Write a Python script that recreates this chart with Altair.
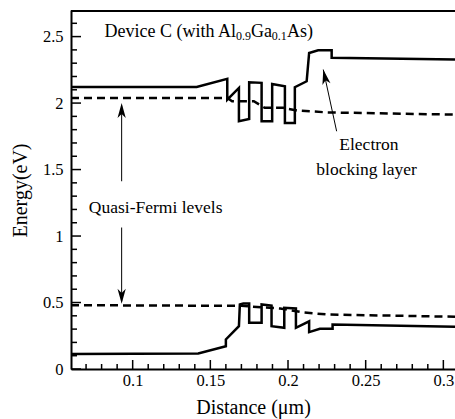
import altair as alt
import pandas as pd

# ---------------- data ----------------
cb_x = [0.0603, 0.1412, 0.1609, 0.1609, 0.1684, 0.1684, 0.1750, 0.1750, 0.1830, 0.1830, 0.1898,
        0.1898, 0.1980, 0.1980, 0.2044, 0.2044, 0.2120, 0.2136, 0.2194, 0.2281, 0.2281, 0.3075]
cb_y = [2.121, 2.121, 2.182, 2.026, 2.114, 1.863, 1.881, 2.156, 2.152, 1.863, 1.863,
        2.144, 2.126, 1.851, 1.851, 2.119, 2.164, 2.377, 2.397, 2.397, 2.340, 2.327]

vb_x = [0.0603, 0.1422, 0.1600, 0.1600, 0.1684, 0.1690, 0.1712, 0.1750, 0.1750, 0.1830, 0.1830, 0.1894,
        0.1894, 0.1976, 0.1976, 0.2051, 0.2051, 0.2136, 0.2136, 0.2205, 0.2287, 0.2287, 0.3075]
vb_y = [0.112, 0.117, 0.171, 0.222, 0.322, 0.485, 0.492, 0.492, 0.347, 0.347, 0.485, 0.477,
        0.322, 0.310, 0.460, 0.455, 0.310, 0.359, 0.277, 0.302, 0.302, 0.335, 0.317]

efn_x = [0.0603, 0.1610, 0.1640, 0.1780, 0.1850, 0.1970, 0.2060, 0.2250, 0.3075]
efn_y = [2.039, 2.039, 2.014, 2.014, 1.964, 1.964, 1.944, 1.930, 1.913]

efp_x = [0.0603, 0.1700, 0.1950, 0.2100, 0.2250, 0.3075]
efp_y = [0.480, 0.475, 0.455, 0.425, 0.410, 0.393]

x_major = [0.1, 0.15, 0.2, 0.25, 0.3]
x_minor = [0.07, 0.08, 0.09, 0.11, 0.12, 0.13, 0.14, 0.16, 0.17, 0.18, 0.19,
           0.21, 0.22, 0.23, 0.24, 0.26, 0.27, 0.28, 0.29]
y_major = [0, 0.5, 1, 1.5, 2, 2.5]
y_minor = [0.1, 0.2, 0.3, 0.4, 0.6, 0.7, 0.8, 0.9, 1.1, 1.2, 1.3, 1.4, 1.6, 1.7, 1.8, 1.9,
           2.1, 2.2, 2.3, 2.4, 2.6]

# annotations (data units)
arrow_id = ["up", "up", "down", "down", "ebl", "ebl"]
arrow_x = [0.0929, 0.0929, 0.0929, 0.0929, 0.2313, 0.2227]
arrow_y = [1.412, 1.98, 1.064, 0.51, 1.788, 2.252]
head_x = [0.0929, 0.0929, 0.2227]
head_y = [2.0, 0.490, 2.252]
head_angle = [0, 180, 347.7]

note_text = ["Quasi-Fermi levels", "Electron", "blocking layer"]
note_x = [0.1148, 0.2521, 0.2506]
note_y = [1.177, 1.645, 1.462]

# title with subscripts, in pieces
title_parts = ["Device C (with Al", "0.9", "Ga", "0.1", "As)"]
title_x = [0.1665, 0.1665, 0.1761, 0.1896, 0.1993]
title_y = [2.50, 2.478, 2.50, 2.478, 2.50]
title_size = [18, 12, 18, 12, 18]
title_align = ["right", "left", "left", "left", "left"]

FONT = "Liberation Serif"
W, H = 384, 359

xs = alt.Scale(domain=[0.0603, 0.3075], nice=False, zero=False)
ys = alt.Scale(domain=[0, 2.7], nice=False, zero=False)

xaxis = alt.Axis(values=x_major, format="~g", ticks=False, grid=False, labelFont=FONT,
                 labelFontSize=16.5, labelColor="black", labelPadding=3,
                 title="Distance (\u03bcm)", titleFont=FONT, titleFontSize=20,
                 titleFontWeight="normal", titleColor="black", titleX=182, titleY=44.5,
                 titleAlign="center", titleBaseline="alphabetic",
                 domainColor="black", domainWidth=2)
yaxis = alt.Axis(values=y_major, format="~g", ticks=False, grid=False, labelFont=FONT,
                 labelFontSize=16.5, labelColor="black", labelPadding=8,
                 title="Energy(eV)", titleFont=FONT, titleFontSize=20,
                 titleFontWeight="normal", titleColor="black", titleX=-51, titleY=180,
                 titleAngle=270, titleAlign="center", titleBaseline="middle",
                 domainColor="black", domainWidth=2)


def X(f):
    return alt.X(f, scale=xs, axis=xaxis)


def Y(f):
    return alt.Y(f, scale=ys, axis=yaxis)


def line_df(xv, yv):
    return pd.DataFrame({"x": xv, "y": yv, "i": list(range(len(xv)))})


def plain_line(xv, yv, **kw):
    return alt.Chart(line_df(xv, yv)).mark_line(color="black", **kw).encode(
        x=X("x:Q"), y=Y("y:Q"), order="i:Q")


cb = plain_line(cb_x, cb_y, strokeWidth=2.5)
vb = plain_line(vb_x, vb_y, strokeWidth=2.5)
efn = plain_line(efn_x, efn_y, strokeWidth=2.5, strokeDash=[8, 5])
efp = plain_line(efp_x, efp_y, strokeWidth=2.5, strokeDash=[8, 5])

ymaj = alt.Chart(pd.DataFrame({"y": y_major})).mark_rule(color="black", strokeWidth=1.5).encode(
    y=Y("y:Q"), x=alt.value(0), x2=alt.value(10))
ymin = alt.Chart(pd.DataFrame({"y": y_minor})).mark_rule(color="black", strokeWidth=1.5).encode(
    y=Y("y:Q"), x=alt.value(0), x2=alt.value(6))
xmaj = alt.Chart(pd.DataFrame({"x": x_major})).mark_rule(color="black", strokeWidth=1.5).encode(
    x=X("x:Q"), y=alt.value(H), y2=alt.value(H - 9))
xmin = alt.Chart(pd.DataFrame({"x": x_minor})).mark_rule(color="black", strokeWidth=1.5).encode(
    x=X("x:Q"), y=alt.value(H), y2=alt.value(H - 5))

top = alt.Chart(pd.DataFrame({"a": [0]})).mark_rule(color="black", strokeWidth=2).encode(
    x=alt.value(0), x2=alt.value(W), y=alt.value(1))

arrows = alt.Chart(pd.DataFrame({"id": arrow_id, "x": arrow_x, "y": arrow_y})).mark_line(
    color="black", strokeWidth=1).encode(x=X("x:Q"), y=Y("y:Q"), detail="id:N")

heads = alt.Chart(pd.DataFrame({"x": head_x, "y": head_y, "a": head_angle})).mark_point(
    shape="M0,0 L0.55,2 L0,1.45 L-0.55,2 Z", filled=True, color="black", opacity=1,
    size=225, strokeWidth=0).encode(
    x=X("x:Q"), y=Y("y:Q"), angle=alt.Angle("a:Q", scale=None))

notes = alt.Chart(pd.DataFrame({"t": note_text, "x": note_x, "y": note_y})).mark_text(
    font=FONT, fontSize=17.5, align="center", baseline="alphabetic", color="black").encode(
    x=X("x:Q"), y=Y("y:Q"), text="t:N")

title_layers = []
for t, tx, ty, ts, ta in zip(title_parts, title_x, title_y, title_size, title_align):
    title_layers.append(
        alt.Chart(pd.DataFrame({"t": [t], "x": [tx], "y": [ty]})).mark_text(
            font=FONT, fontSize=ts, align=ta, baseline="alphabetic", color="black").encode(
            x=X("x:Q"), y=Y("y:Q"), text="t:N"))

chart = alt.layer(cb, vb, efn, efp, ymaj, ymin, xmaj, xmin, top, arrows, heads, notes,
                  *title_layers).properties(
    width=W, height=H,
    padding={"left": 71, "top": 10, "right": 0, "bottom": 50},
    autosize=alt.AutoSizeParams(type="none"),
    background="white",
).configure_view(strokeWidth=0)

chart.save("out.html", embed_options={"renderer": "svg", "actions": False})
